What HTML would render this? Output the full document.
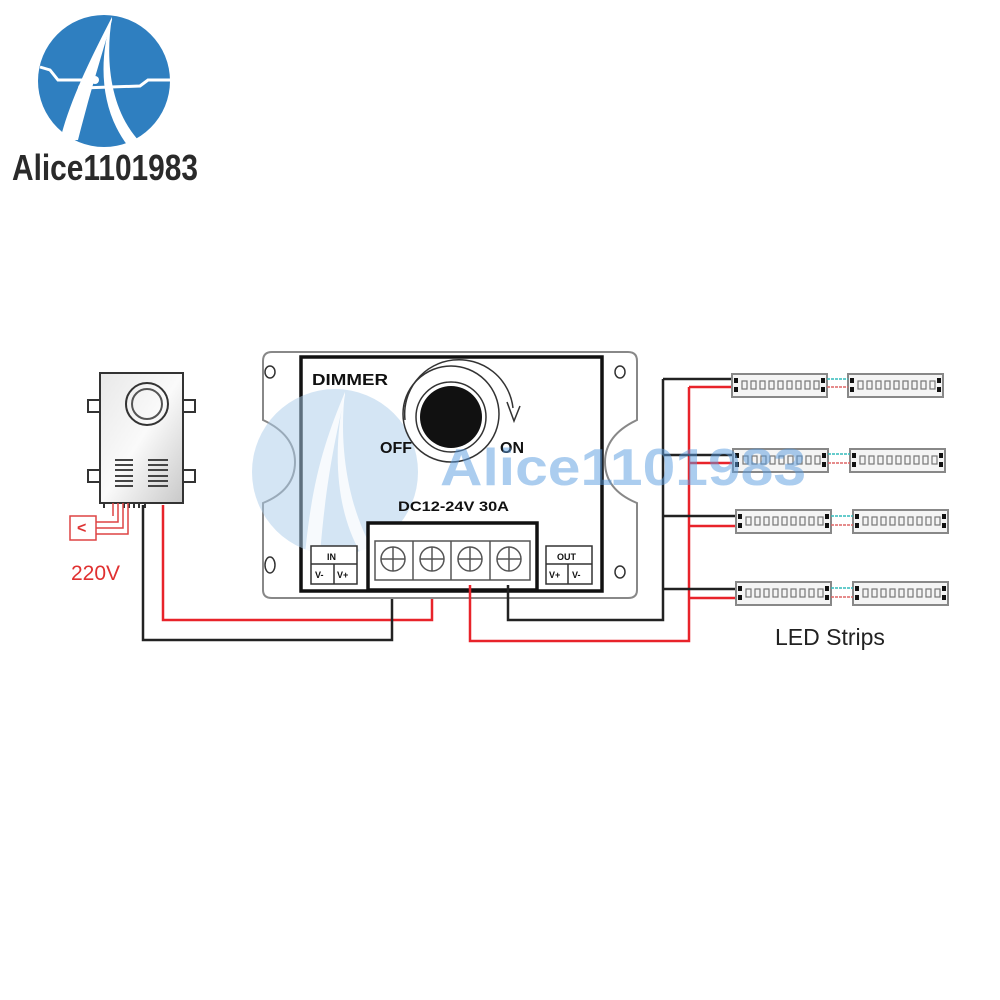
<!DOCTYPE html>
<html><head><meta charset="utf-8"><style>
html,body{margin:0;padding:0;background:#fff;}
svg{display:block;}
text{font-family:"Liberation Sans",sans-serif;}
</style></head><body>
<svg width="1000" height="1000" viewBox="0 0 1000 1000" xmlns="http://www.w3.org/2000/svg">
<defs>
<linearGradient id="ps" x1="0" y1="0" x2="1" y2="1">
<stop offset="0" stop-color="#e8e8e8"/><stop offset="0.5" stop-color="#fafafa"/><stop offset="1" stop-color="#c8c8c8"/>
</linearGradient>
<g id="strip">
<rect x="0" y="0" width="95" height="23" fill="#f4f4f4" stroke="#888" stroke-width="2"/>
<rect x="2" y="4" width="4" height="5" fill="#111"/><rect x="2" y="13" width="4" height="5" fill="#111"/>
<rect x="89" y="4" width="4" height="5" fill="#111"/><rect x="89" y="13" width="4" height="5" fill="#111"/>
<g fill="none" stroke="#777" stroke-width="1.2">
<rect x="10" y="7" width="5" height="8"/><rect x="19" y="7" width="5" height="8"/><rect x="28" y="7" width="5" height="8"/><rect x="37" y="7" width="5" height="8"/><rect x="46" y="7" width="5" height="8"/><rect x="55" y="7" width="5" height="8"/><rect x="64" y="7" width="5" height="8"/><rect x="73" y="7" width="5" height="8"/><rect x="82" y="7" width="5" height="8"/>
</g>
</g>
</defs>

<!-- Logo -->
<circle cx="104" cy="81" r="66" fill="#2f7fc0"/>
<path d="M112 17 C90 60 70 100 60 140 L78 140 C88 100 100 60 112 20 Z" fill="#fff"/>
<path d="M112 17 C105 60 110 110 140 142 L128 146 C100 110 98 60 112 17 Z" fill="#fff"/>
<path d="M40 67 L50 70 L58 80 L95 80" fill="none" stroke="#fff" stroke-width="3"/>
<path d="M82 88 L140 86 L148 80 L172 80" fill="none" stroke="#fff" stroke-width="3"/>
<circle cx="95" cy="80" r="4" fill="#fff"/><circle cx="82" cy="88" r="4" fill="#fff"/>
<text x="12" y="180" font-size="36" font-weight="bold" fill="#2a2a2a" textLength="186" lengthAdjust="spacingAndGlyphs">Alice1101983</text>

<!-- Power supply -->
<rect x="88" y="400" width="12" height="12" fill="#fff" stroke="#333" stroke-width="2"/>
<rect x="88" y="470" width="12" height="12" fill="#fff" stroke="#333" stroke-width="2"/>
<rect x="183" y="400" width="12" height="12" fill="#fff" stroke="#333" stroke-width="2"/>
<rect x="183" y="470" width="12" height="12" fill="#fff" stroke="#333" stroke-width="2"/>
<rect x="100" y="373" width="83" height="130" fill="url(#ps)" stroke="#333" stroke-width="2"/>
<circle cx="147" cy="404" r="21" fill="none" stroke="#333" stroke-width="2"/>
<circle cx="147" cy="404" r="15" fill="none" stroke="#555" stroke-width="2"/>
<g stroke="#444" stroke-width="2">
<line x1="115" y1="460" x2="133" y2="460"/><line x1="115" y1="465" x2="133" y2="465"/><line x1="115" y1="470" x2="133" y2="470"/><line x1="115" y1="476" x2="133" y2="476"/><line x1="115" y1="481" x2="133" y2="481"/><line x1="115" y1="486" x2="133" y2="486"/>
<line x1="148" y1="460" x2="168" y2="460"/><line x1="148" y1="465" x2="168" y2="465"/><line x1="148" y1="470" x2="168" y2="470"/><line x1="148" y1="476" x2="168" y2="476"/><line x1="148" y1="481" x2="168" y2="481"/><line x1="148" y1="486" x2="168" y2="486"/>
</g>
<g stroke="#333" stroke-width="2">
<line x1="104" y1="503" x2="104" y2="508"/><line x1="124" y1="503" x2="124" y2="508"/><line x1="129" y1="503" x2="129" y2="508"/><line x1="134" y1="503" x2="134" y2="508"/><line x1="139" y1="503" x2="139" y2="508"/><line x1="145" y1="503" x2="145" y2="508"/>
</g>
<g fill="none" stroke="#d44" stroke-width="1.5">
<rect x="70" y="516" width="26" height="24"/>
<path d="M96 522 L118 522 L118 503"/><path d="M96 528 L123 528 L123 503"/><path d="M96 534 L128 534 L128 503"/>
<path d="M113 503 L113 516"/>
</g>
<text x="77" y="533" font-size="16" font-weight="bold" fill="#d33">&lt;</text>
<text x="71" y="580" font-size="21" fill="#e03030">220V</text>

<path d="M163 505 L163 620 L432 620 L432 585" fill="none" stroke="#e8232a" stroke-width="2.5"/>
<path d="M143 505 L143 640 L392 640 L392 585" fill="none" stroke="#222" stroke-width="2.5"/>

<!-- Dimmer bracket -->
<path d="M272 352 L628 352 Q637 352 637 361 L637 420 Q605 435 605 462 Q605 490 637 503 L637 590 Q637 598 628 598 L272 598 Q263 598 263 590 L263 503 Q295 490 295 462 Q295 435 263 420 L263 361 Q263 352 272 352 Z" fill="#fff" stroke="#888" stroke-width="2"/>
<ellipse cx="270" cy="372" rx="5" ry="6" fill="none" stroke="#333" stroke-width="1.5"/>
<ellipse cx="270" cy="565" rx="5" ry="8" fill="none" stroke="#333" stroke-width="1.5"/>
<ellipse cx="620" cy="372" rx="5" ry="6" fill="none" stroke="#333" stroke-width="1.5"/>
<ellipse cx="620" cy="572" rx="5" ry="6" fill="none" stroke="#333" stroke-width="1.5"/>
<rect x="301" y="357" width="301" height="234" fill="#fff" stroke="#111" stroke-width="3.5"/>
<text x="312" y="385" font-size="16" font-weight="bold" fill="#111" textLength="76" lengthAdjust="spacingAndGlyphs">DIMMER</text>

<circle cx="335" cy="472" r="83" fill="#a9cbe9" opacity="0.5"/>
<path d="M345 392 C325 440 312 480 305 555 L320 555 C326 480 335 440 345 395 Z" fill="#fff" opacity="0.8"/>
<path d="M345 392 C338 450 350 510 372 548 L360 552 C336 510 332 450 345 392 Z" fill="#fff" opacity="0.8"/>

<circle cx="451" cy="414" r="48" fill="none" stroke="#333" stroke-width="1.5"/>
<circle cx="451" cy="417" r="35" fill="none" stroke="#333" stroke-width="1.5"/>
<circle cx="451" cy="417" r="31" fill="#111"/>
<path d="M405 420 A50 50 0 0 1 513 408" fill="none" stroke="#333" stroke-width="1.5"/>
<path d="M507 402 L514 421 L520 406" fill="none" stroke="#333" stroke-width="1.5"/>
<text x="380" y="453" font-size="16" font-weight="bold" fill="#111">OFF</text>
<text x="500" y="453" font-size="16" font-weight="bold" fill="#111">ON</text>
<text x="398" y="511" font-size="14" font-weight="bold" fill="#111" textLength="111" lengthAdjust="spacingAndGlyphs">DC12-24V 30A</text>

<rect x="368" y="523" width="169" height="67" fill="#fff" stroke="#111" stroke-width="3.5"/>
<rect x="375" y="541" width="155" height="39" fill="#fff" stroke="#555" stroke-width="1.5"/>
<g stroke="#555" stroke-width="1.5" fill="none">
<line x1="413" y1="541" x2="413" y2="580"/><line x1="451" y1="541" x2="451" y2="580"/><line x1="490" y1="541" x2="490" y2="580"/>
<circle cx="393" cy="559" r="12"/><line x1="381" y1="559" x2="405" y2="559"/><line x1="393" y1="547" x2="393" y2="571"/>
<circle cx="432" cy="559" r="12"/><line x1="420" y1="559" x2="444" y2="559"/><line x1="432" y1="547" x2="432" y2="571"/>
<circle cx="470" cy="559" r="12"/><line x1="458" y1="559" x2="482" y2="559"/><line x1="470" y1="547" x2="470" y2="571"/>
<circle cx="509" cy="559" r="12"/><line x1="497" y1="559" x2="521" y2="559"/><line x1="509" y1="547" x2="509" y2="571"/>
</g>
<rect x="311" y="546" width="46" height="38" fill="#fff" stroke="#333" stroke-width="1.5"/>
<line x1="311" y1="564" x2="357" y2="564" stroke="#333" stroke-width="1.5"/><line x1="334" y1="564" x2="334" y2="584" stroke="#333" stroke-width="1.5"/>
<text x="327" y="560" font-size="9" font-weight="bold" fill="#111">IN</text>
<text x="315" y="578" font-size="9" font-weight="bold" fill="#111">V-</text><text x="337" y="578" font-size="9" font-weight="bold" fill="#111">V+</text>
<rect x="546" y="546" width="46" height="38" fill="#fff" stroke="#333" stroke-width="1.5"/>
<line x1="546" y1="564" x2="592" y2="564" stroke="#333" stroke-width="1.5"/><line x1="568" y1="564" x2="568" y2="584" stroke="#333" stroke-width="1.5"/>
<text x="557" y="560" font-size="9" font-weight="bold" fill="#111">OUT</text>
<text x="549" y="578" font-size="9" font-weight="bold" fill="#111">V+</text><text x="572" y="578" font-size="9" font-weight="bold" fill="#111">V-</text>

<path d="M470 585 L470 641 L689 641 L689 387" fill="none" stroke="#e8232a" stroke-width="2.5"/>
<path d="M508 585 L508 620 L663 620 L663 379" fill="none" stroke="#222" stroke-width="2.5"/>
<g stroke="#222" stroke-width="2.5">
<line x1="663" y1="379" x2="735" y2="379"/><line x1="663" y1="455" x2="736" y2="455"/><line x1="663" y1="516" x2="739" y2="516"/><line x1="663" y1="589" x2="739" y2="589"/>
</g>
<g stroke="#e8232a" stroke-width="2.5">
<line x1="689" y1="387" x2="735" y2="387"/><line x1="689" y1="463" x2="736" y2="463"/><line x1="689" y1="526" x2="739" y2="526"/><line x1="689" y1="598" x2="739" y2="598"/>
</g>
<use href="#strip" x="732" y="374"/><use href="#strip" x="848" y="374"/>
<use href="#strip" x="733" y="449"/><use href="#strip" x="850" y="449"/>
<use href="#strip" x="736" y="510"/><use href="#strip" x="853" y="510"/>
<use href="#strip" x="736" y="582"/><use href="#strip" x="853" y="582"/>
<g stroke-width="1.5" stroke-dasharray="3,1">
<line x1="827" y1="379" x2="848" y2="379" stroke="#3bb"/><line x1="827" y1="387" x2="848" y2="387" stroke="#d66"/>
<line x1="828" y1="454" x2="850" y2="454" stroke="#3bb"/><line x1="828" y1="463" x2="850" y2="463" stroke="#d66"/>
<line x1="831" y1="516" x2="853" y2="516" stroke="#3bb"/><line x1="831" y1="525" x2="853" y2="525" stroke="#d66"/>
<line x1="831" y1="588" x2="853" y2="588" stroke="#3bb"/><line x1="831" y1="597" x2="853" y2="597" stroke="#d66"/>
</g>
<text x="775" y="645" font-size="23" fill="#222">LED Strips</text>

<text x="440" y="485" font-size="52" font-weight="bold" fill="#5a9ce0" opacity="0.5" textLength="366" lengthAdjust="spacingAndGlyphs">Alice1101983</text>
</svg>
</body></html>
